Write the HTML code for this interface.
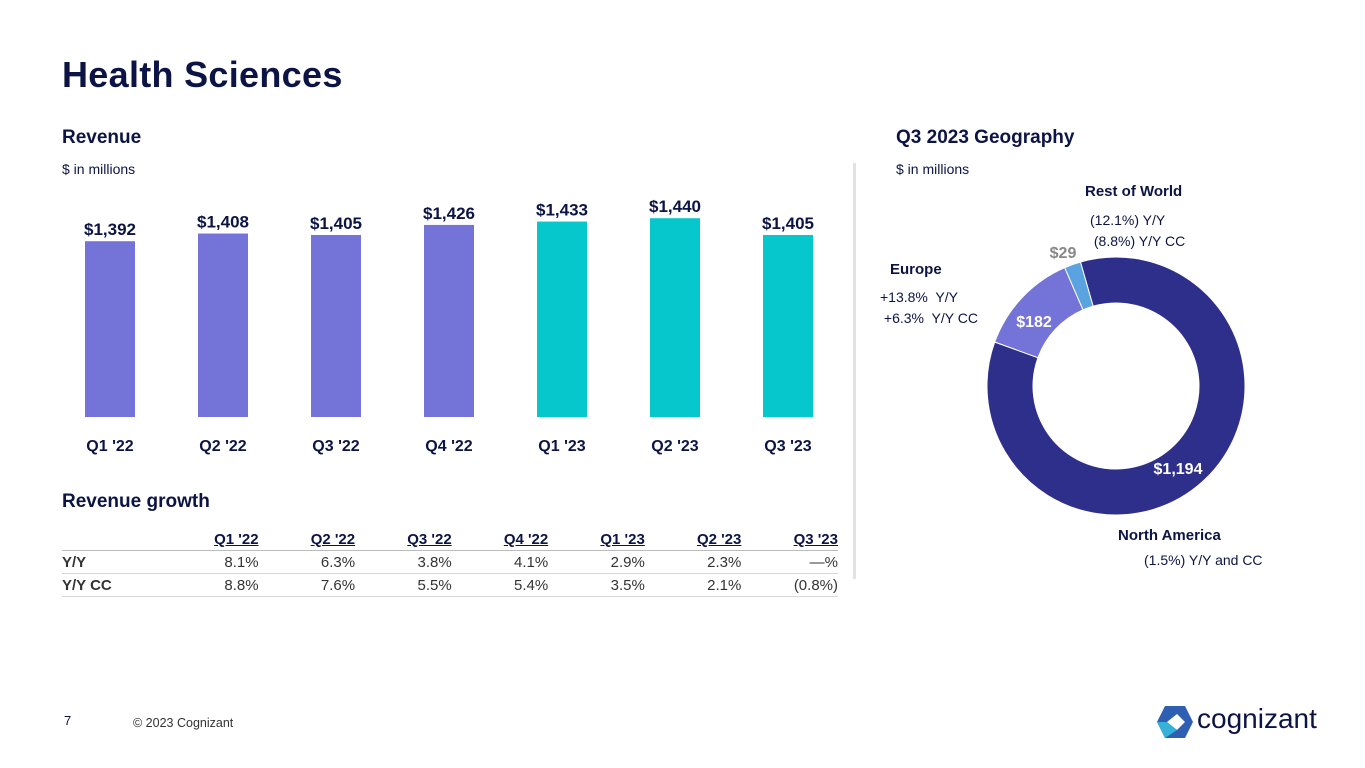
<!DOCTYPE html>
<html><head><meta charset="utf-8"><style>
body{margin:0;width:1365px;height:768px;background:#fff;font-family:"Liberation Sans",sans-serif;color:#0c1445;position:relative;overflow:hidden}
.a{position:absolute;white-space:nowrap}
table{position:absolute;left:62px;top:529px;border-collapse:collapse;font-size:15px;width:776px}
td,th{padding:0;height:22px;text-align:right;border-bottom:1px solid #d8d8d8}
th{font-weight:bold;text-decoration:underline;border-bottom:1px solid #bbb;height:21px}
td:first-child,th:first-child{text-align:left;font-weight:bold;width:100px}
td{color:#333}
</style></head><body>
<div class="a" style="left:62px;top:54px;font-size:36px;font-weight:bold;letter-spacing:0.3px">Health Sciences</div>
<div class="a" style="left:62px;top:127px;font-size:19px;font-weight:bold">Revenue</div>
<div class="a" style="left:62px;top:161px;font-size:14px">$ in millions</div>
<svg class="a" style="left:0;top:0" width="850" height="470" id="bars"></svg>
<div class="a" style="left:62px;top:491px;font-size:19px;font-weight:bold">Revenue growth</div>
<table>
<tr><th></th><th>Q1 '22</th><th>Q2 '22</th><th>Q3 '22</th><th>Q4 '22</th><th>Q1 '23</th><th>Q2 '23</th><th>Q3 '23</th></tr>
<tr><td>Y/Y</td><td>8.1%</td><td>6.3%</td><td>3.8%</td><td>4.1%</td><td>2.9%</td><td>2.3%</td><td>—%</td></tr>
<tr><td>Y/Y CC</td><td>8.8%</td><td>7.6%</td><td>5.5%</td><td>5.4%</td><td>3.5%</td><td>2.1%</td><td>(0.8%)</td></tr>
</table>
<div class="a" style="left:853px;top:163px;width:3px;height:416px;background:#e2e2e2"></div>
<div class="a" style="left:896px;top:127px;font-size:19px;font-weight:bold">Q3 2023 Geography</div>
<div class="a" style="left:896px;top:161px;font-size:14px">$ in millions</div>
<svg class="a" style="left:0;top:0" width="1365" height="600" id="donut"></svg>
<div class="a" style="left:1085px;top:183px;font-size:15px;font-weight:bold">Rest of World</div>
<div class="a" style="left:1090px;top:210px;font-size:14px;line-height:21px">(12.1%) Y/Y<br>&nbsp;(8.8%) Y/Y CC</div>
<div class="a" style="left:890px;top:261px;font-size:15px;font-weight:bold">Europe</div>
<div class="a" style="left:880px;top:287px;font-size:14px;line-height:21px">+13.8%&nbsp; Y/Y<br>&nbsp;+6.3%&nbsp; Y/Y CC</div>
<div class="a" style="left:1118px;top:527px;font-size:15px;font-weight:bold">North America</div>
<div class="a" style="left:1144px;top:552px;font-size:14px">(1.5%) Y/Y and CC</div>
<div class="a" style="left:64px;top:713px;font-size:13px">7</div>
<div class="a" style="left:133px;top:716px;font-size:12.5px;color:#333">© 2023 Cognizant</div>
<svg class="a" style="left:1155px;top:705px" width="40" height="34"><polygon points="10,1 30,1 38,17 30,33 10,33 2,17" fill="#2f5fb3"/><polygon points="12,17 22,9 30,17 22,25" fill="#fff"/><polygon points="2,17 12,17 22,25 10,33" fill="#36b2d9"/></svg>
<div class="a" style="left:1197px;top:703px;font-size:28px;color:#0c1445">cognizant</div>
<script>
const cats=["Q1 '22","Q2 '22","Q3 '22","Q4 '22","Q1 '23","Q2 '23","Q3 '23"];
const revenue=[1392,1408,1405,1426,1433,1440,1405];
const labels=["$1,392","$1,408","$1,405","$1,426","$1,433","$1,440","$1,405"];
const geoNames=["North America","Europe","Rest of World"];
const geoValues=[1194,182,29];
const geoLabels=["$1,194","$182","$29"];
const NS="http://www.w3.org/2000/svg";
function mk(p,t,a){const e=document.createElementNS(NS,t);for(const k in a)e.setAttribute(k,a[k]);p.appendChild(e);return e;}
const bs=document.getElementById('bars');
const base=417,ymin=1025,k=0.479;
const y=v=>base-(v-ymin)*k;
const x=i=>110+i*113;
revenue.forEach((v,i)=>{
 const r=mk(bs,'rect',{x:x(i)-25,y:y(v),width:50,height:base-y(v),fill:i<4?'#7373d8':'#06c7cc'});
 
 
 const t=mk(bs,'text',{x:x(i),y:y(v)-6,'text-anchor':'middle','font-size':17,'font-weight':'bold',fill:'#0c1445'});t.textContent=labels[i];
 
 
 const c=mk(bs,'text',{x:x(i),y:451,'text-anchor':'middle','font-size':16,'font-weight':'bold',fill:'#0c1445'});c.textContent=cats[i];
 
 
});
const ds=document.getElementById('donut');
const cx=1116,cy=386,R=129,r0=83,cols=['#2e2f8a','#7373d8','#5ba3e0'];
const tot=geoValues.reduce((a,b)=>a+b,0);
let ang=-16*Math.PI/180;
const pt=(a,rr)=>[cx+rr*Math.sin(a),cy-rr*Math.cos(a)];
const lpos=[[1178,468],[1034,321],[1063,252]];
geoValues.forEach((v,i)=>{
 const a1=ang+v/tot*2*Math.PI;const lg=(a1-ang)>Math.PI?1:0;
 const [x1,y1]=pt(ang,R),[x2,y2]=pt(a1,R),[x3,y3]=pt(a1,r0),[x4,y4]=pt(ang,r0);
 const p=mk(ds,'path',{d:`M${x1},${y1}A${R},${R} 0 ${lg} 1 ${x2},${y2}L${x3},${y3}A${r0},${r0} 0 ${lg} 0 ${x4},${y4}Z`,fill:cols[i],stroke:'#fff','stroke-width':1});
 
 
 const t=mk(ds,'text',{x:lpos[i][0],y:lpos[i][1]+6,'text-anchor':'middle','font-size':16,'font-weight':'bold',fill:i==2?'#888':'#fff'});t.textContent=geoLabels[i];
 
 
 ang=a1;
});
</script>
</body></html>
